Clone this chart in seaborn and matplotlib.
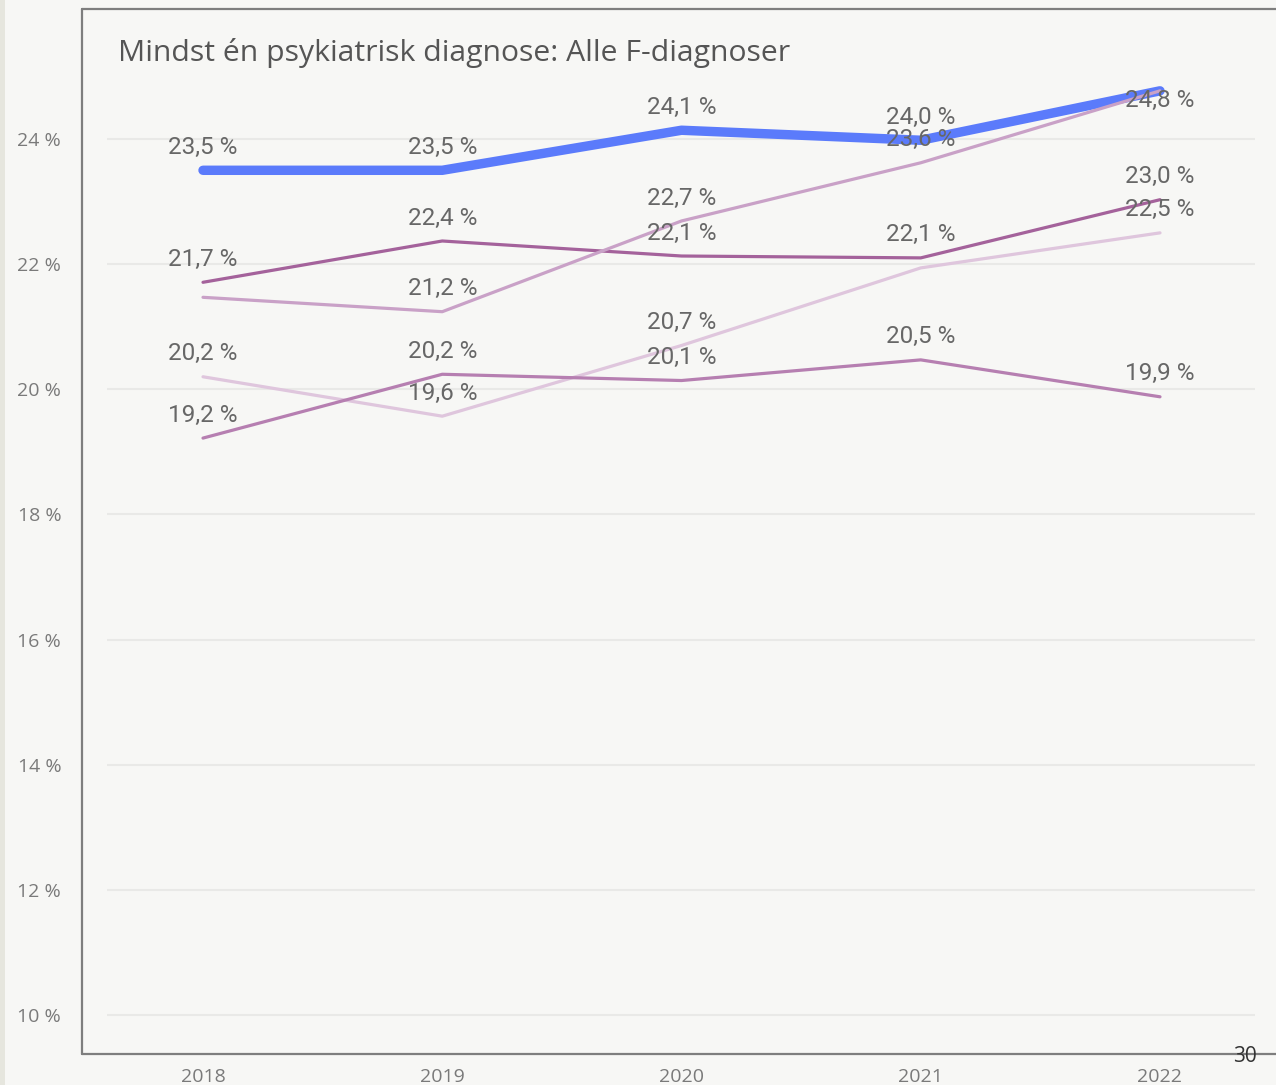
import matplotlib
matplotlib.use("Agg")
import matplotlib.pyplot as plt
import seaborn as sns
import pandas as pd
from matplotlib.lines import Line2D

# ---------------- data ----------------
years = [2018, 2019, 2020, 2021, 2022]
series_names = ["Serie A", "Serie B", "Serie C", "Serie D", "Serie E"]
serie_a = [23.50, 23.50, 24.14, 23.98, 24.77]
serie_b = [21.71, 22.37, 22.13, 22.10, 23.03]
serie_c = [21.47, 21.24, 22.69, 23.62, 24.77]
serie_d = [20.20, 19.57, 20.70, 21.94, 22.50]
serie_e = [19.22, 20.24, 20.14, 20.47, 19.88]
y_ticks = [10, 12, 14, 16, 18, 20, 22, 24]
title = "Mindst én psykiatrisk diagnose: Alle F-diagnoser"
page_number = "30"

values = [serie_a, serie_b, serie_c, serie_d, serie_e]
df = pd.DataFrame({
    "År": [y for _ in series_names for y in years],
    "Andel": [v for vals in values for v in vals],
    "Serie": [n for n in series_names for _ in years],
})

# ---------------- style ----------------
palette = {
    "Serie A": "#5B7BFB",
    "Serie B": "#A4629B",
    "Serie C": "#C9A1C7",
    "Serie D": "#DFC6DD",
    "Serie E": "#B67FB1",
}
widths = {"Serie A": 6.8, "Serie B": 2.3, "Serie C": 2.3, "Serie D": 2.3, "Serie E": 2.3}
# which data labels are shown / label offset in px (negative = below)
label_show = {
    "Serie A": [True, True, True, True, True],
    "Serie B": [True, True, True, True, True],
    "Serie C": [False, True, True, True, False],
    "Serie D": [True, True, True, False, True],
    "Serie E": [True, True, True, True, True],
}
label_offset_px = {"Serie A": [23, 23, 23, 23, -10]}

bg = "#F7F7F5"
sns.set_theme(style="white")
plt.rcParams["font.family"] = ["Open Sans", "DejaVu Sans"]

W, H = 1276, 1085
fig = plt.figure(figsize=(W / 100, H / 100), dpi=100, facecolor=bg)

# left strip
fig.add_artist(plt.Rectangle((0, 0), 5 / W, 1, transform=fig.transFigure,
                             facecolor="#E6E6DE", edgecolor="none", zorder=0))

ax_left, ax_right = 107, 1255
ax_top, ax_bottom = 9, 1054
ax = fig.add_axes([ax_left / W, (H - ax_bottom) / H, (ax_right - ax_left) / W,
                   (ax_bottom - ax_top) / H])
ax.set_facecolor(bg)

px_per_unit = 62.57
ax.set_ylim(10 - (ax_bottom - 1015) / px_per_unit, 24 + (139 - ax_top) / px_per_unit)
step = 239.25
ax.set_xlim(2018 - (203 - ax_left) / step, 2022 + (ax_right - 1160) / step)

for n in series_names:
    sub = df[df["Serie"] == n]
    sns.lineplot(data=sub, x="År", y="Andel", ax=ax, color=palette[n],
                 linewidth=widths[n], solid_capstyle="round", legend=False,
                 zorder=3 if n != "Serie A" else 2)

ax.set_yticks(y_ticks)
ax.set_yticklabels([f"{t} %" for t in y_ticks])
ax.set_xticks(years)
ax.set_xticklabels([str(y) for y in years])
ax.tick_params(axis="y", length=0, pad=33, labelsize=14, labelcolor="#7A7A7A")
ax.tick_params(axis="x", length=0, pad=10, labelsize=14, labelcolor="#7A7A7A")
ax.grid(axis="y", color="#E9E9E7", linewidth=1.5)
ax.grid(axis="x", visible=False)
ax.set_axisbelow(True)
for s in ax.spines.values():
    s.set_visible(False)
ax.set_xlabel("")
ax.set_ylabel("")

# data labels
pt_per_px = 72 / 100
for n, vals in zip(series_names, values):
    offs = label_offset_px.get(n, [23] * len(years))
    for i, (yr, v) in enumerate(zip(years, vals)):
        if not label_show[n][i]:
            continue
        txt = f"{v:.1f} %".replace(".", ",")
        ax.annotate(txt, (yr, v), xytext=(0, offs[i] * pt_per_px),
                    textcoords="offset points", ha="center", va="center",
                    fontsize=17.5, color="#676767", family=["Roboto", "DejaVu Sans"],
                    zorder=5)

# frame
fc = "#7E7E7E"
fig.add_artist(Line2D([82 / W, 1], [1 - ax_top / H] * 2, transform=fig.transFigure,
                      color=fc, linewidth=1.6))
fig.add_artist(Line2D([82 / W, 1], [1 - ax_bottom / H] * 2, transform=fig.transFigure,
                      color=fc, linewidth=1.6))
fig.add_artist(Line2D([82 / W] * 2, [1 - ax_top / H, 1 - ax_bottom / H],
                      transform=fig.transFigure, color=fc, linewidth=1.6))

fig.text(118 / W, 1 - 53 / H, title, ha="left", va="center", fontsize=21.7,
         color="#555555")
fig.text(1245 / W, 1 - 1057 / H, page_number, ha="center", va="center",
         fontsize=15, color="#333333")

fig.savefig("out.png", dpi=100, facecolor=bg)
